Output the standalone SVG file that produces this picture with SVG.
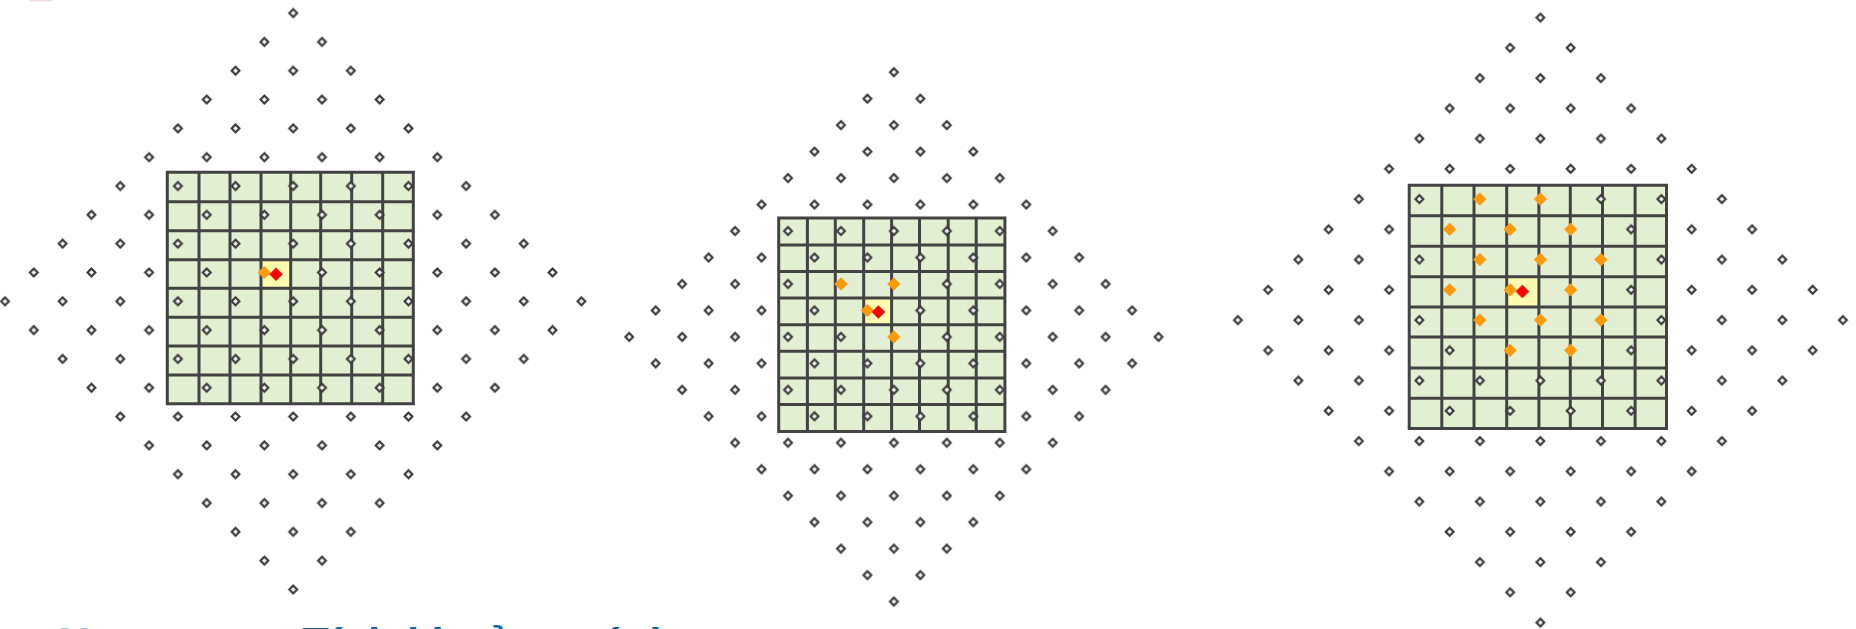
<svg xmlns="http://www.w3.org/2000/svg" xmlns:xlink="http://www.w3.org/1999/xlink" width="1856" height="629" viewBox="0 0 1856 629">
<style>
.cellbg{fill:#e3efd2}
.hl{fill:#fdfbb0}
.gl{fill:none;stroke:#434343;stroke-width:3}
.gm{fill:#f4f4f4;stroke:#383838;stroke-width:2.1}
.om{fill:#ff9a00;stroke:#f2a640;stroke-width:0.8}
.rm{fill:#ff0000;stroke:#e23a3a;stroke-width:0.8}
.t1{font-family:"Liberation Sans",Arial,sans-serif;font-weight:bold;font-size:44px;fill:#8ec4e0}
.t2{font-family:"Liberation Sans",Arial,sans-serif;font-weight:bold;font-size:44px;fill:#12689a}
</style>
<defs>
<polygon id="g" class="gm" points="0,-3.9 3.9,0 0,3.9 -3.9,0"/>
<polygon id="o" class="om" points="0,-6.3 6.3,0 0,6.3 -6.3,0"/>
<polygon id="r" class="rm" points="0,-6.5 6.5,0 0,6.5 -6.5,0"/>
<pattern id="p1" patternUnits="userSpaceOnUse" x="278.79" y="286.89" width="57.64" height="57.64">
<use href="#g" x="14.41" y="14.41"/><use href="#g" x="43.23" y="43.23"/>
</pattern>
<pattern id="p2" patternUnits="userSpaceOnUse" x="880.665" y="323.665" width="52.94" height="52.94">
<use href="#g" x="13.235" y="13.235"/><use href="#g" x="39.705" y="39.705"/>
</pattern>
<pattern id="p3" patternUnits="userSpaceOnUse" x="1525.275" y="304.975" width="60.5" height="60.5">
<use href="#g" x="15.125" y="15.125"/><use href="#g" x="45.375" y="45.375"/>
</pattern>
</defs>
<rect width="1856" height="629" fill="#ffffff"/>
<rect x="28" y="-10" width="26" height="11.5" rx="4" fill="#f6dbe1"/>

<g id="panel1">
<rect class="cellbg" x="167.3" y="172.3" width="246" height="231.4"/>
<rect class="hl" x="261" y="259.7" width="29.7" height="28.6"/>
<path class="gl" d="M167.3 172.3H413.3V403.7H167.3Z M199 172.3V403.7 M230 172.3V403.7 M261 172.3V403.7 M290.7 172.3V403.7 M320.7 172.3V403.7 M351.7 172.3V403.7 M382.7 172.3V403.7 M167.3 201.7H413.3 M167.3 230.7H413.3 M167.3 259.7H413.3 M167.3 288.3H413.3 M167.3 317.3H413.3 M167.3 346H413.3 M167.3 375H413.3"/>
<polygon points="293.2,-15.72 610.22,301.3 293.2,618.32 -23.82,301.3" fill="url(#p1)"/>
<use href="#o" x="264.38" y="272.48"/>
<use href="#r" x="276" y="274.2"/>
</g>

<g id="panel2">
<rect class="cellbg" x="778.7" y="218" width="226.2" height="213.5"/>
<rect class="hl" x="863.7" y="298.1" width="27.9" height="26.6"/>
<path class="gl" d="M778.7 218H1004.9V431.5H778.7Z M807.4 218V431.5 M835.3 218V431.5 M863.7 218V431.5 M891.6 218V431.5 M919.5 218V431.5 M948.2 218V431.5 M976.2 218V431.5 M778.7 245H1004.9 M778.7 271.6H1004.9 M778.7 298.1H1004.9 M778.7 324.7H1004.9 M778.7 351.3H1004.9 M778.7 377.9H1004.9 M778.7 404.5H1004.9"/>
<polygon points="893.9,45.73 1185.07,336.9 893.9,628.07 602.73,336.9" fill="url(#p2)"/>
<use href="#o" x="841" y="283.96"/>
<use href="#o" x="893.9" y="283.96"/>
<use href="#o" x="867.43" y="310.43"/>
<use href="#o" x="893.9" y="336.9"/>
<use href="#r" x="878.4" y="312"/>
</g>

<g id="panel3">
<rect class="cellbg" x="1409.2" y="185.3" width="257.3" height="243.1"/>
<rect class="hl" x="1506.7" y="276.8" width="32.2" height="30.1"/>
<path class="gl" d="M1409.2 185.3H1666.5V428.4H1409.2Z M1441.8 185.3V428.4 M1474 185.3V428.4 M1506.7 185.3V428.4 M1538.9 185.3V428.4 M1570.3 185.3V428.4 M1602.5 185.3V428.4 M1635.1 185.3V428.4 M1409.2 215.8H1666.5 M1409.2 246.3H1666.5 M1409.2 276.8H1666.5 M1409.2 306.9H1666.5 M1409.2 337H1666.5 M1409.2 367.9H1666.5 M1409.2 398.3H1666.5"/>
<polygon points="1540.4,-12.65 1873.15,320.1 1540.4,652.85 1207.65,320.1" fill="url(#p3)"/>
<use href="#o" x="1479.9" y="199.1"/>
<use href="#o" x="1540.4" y="199.1"/>
<use href="#o" x="1449.65" y="229.35"/>
<use href="#o" x="1510.15" y="229.35"/>
<use href="#o" x="1570.65" y="229.35"/>
<use href="#o" x="1479.9" y="259.6"/>
<use href="#o" x="1540.4" y="259.6"/>
<use href="#o" x="1600.9" y="259.6"/>
<use href="#o" x="1449.65" y="289.85"/>
<use href="#o" x="1510.15" y="289.85"/>
<use href="#o" x="1570.65" y="289.85"/>
<use href="#o" x="1479.9" y="320.1"/>
<use href="#o" x="1540.4" y="320.1"/>
<use href="#o" x="1600.9" y="320.1"/>
<use href="#o" x="1510.15" y="350.35"/>
<use href="#o" x="1570.65" y="350.35"/>
<use href="#r" x="1522.4" y="291.5"/>
</g>

<g id="caption">
<text class="t1" x="58" y="659">N</text>
<text class="t2" x="302" y="659">Tính khoảng cách</text>
</g>
</svg>
